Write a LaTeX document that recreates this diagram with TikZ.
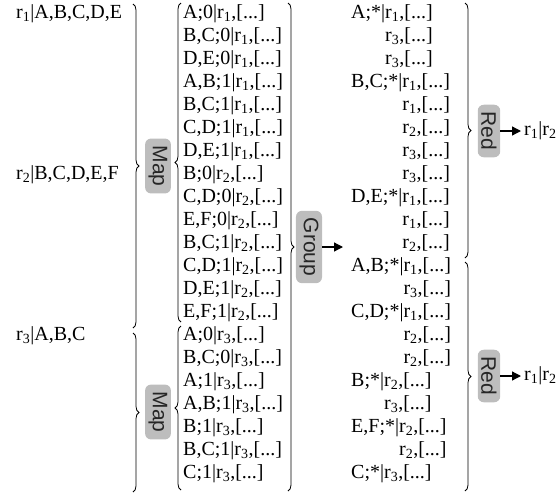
\documentclass[tikz,border=0pt]{standalone}
\usepackage{fontspec}
\setmainfont{Liberation Serif}
\newfontfamily\lblfont{Liberation Sans}
\usetikzlibrary{decorations.pathreplacing,arrows.meta}
\newcommand{\rs}[1]{r\textsubscript{#1}}
\newcommand{\dd}{[...]}
\begin{document}
\begin{tikzpicture}[x=1pt,y=-1pt,
  txt/.style={anchor=west,inner sep=0pt,font=\fontsize{20}{23}\selectfont},
  opbox/.style={fill=black!26,rounded corners=6pt,rotate=-90,inner xsep=7pt,inner ysep=3.5pt,font=\lblfont\fontsize{21}{21}\selectfont,text=black!85},
  brc/.style={decorate,decoration={brace,amplitude=6pt},line width=0.8pt},
  arr/.style={-{Triangle[length=9pt,width=9pt]},line width=1.3pt}]
\useasboundingbox (0,0) rectangle (560,496);
% inputs
\node[txt] (l1) at (16,14) {\rs{1}|A,B,C,D,E};
\node[txt] (l2) at (16,175) {\rs{2}|B,C,D,E,F};
\node[txt] (l3) at (16,336) {\rs{3}|A,B,C};
% middle column
\foreach \t [count=\i from 0] in {
  {A;0|\rs{1},\dd},{B,C;0|\rs{1},\dd},{D,E;0|\rs{1},\dd},{A,B;1|\rs{1},\dd},
  {B,C;1|\rs{1},\dd},{C,D;1|\rs{1},\dd},{D,E;1|\rs{1},\dd},
  {B;0|\rs{2},\dd},{C,D;0|\rs{2},\dd},{E,F;0|\rs{2},\dd},{B,C;1|\rs{2},\dd},
  {C,D;1|\rs{2},\dd},{D,E;1|\rs{2},\dd},{E,F;1|\rs{2},\dd},
  {A;0|\rs{3},\dd},{B,C;0|\rs{3},\dd},{A;1|\rs{3},\dd},{A,B;1|\rs{3},\dd},
  {B;1|\rs{3},\dd},{B,C;1|\rs{3},\dd},{C;1|\rs{3},\dd}}
  {\node[txt] (m\i) at (183,{14+23*\i}) {\t};}
% right column
\foreach \t [count=\i from 0] in {
  {A;*|\rs{1},\dd},{\phantom{A;*|}\rs{3},\dd},{\phantom{A;*|}\rs{3},\dd},
  {B,C;*|\rs{1},\dd},{\phantom{B,C;*|}\rs{1},\dd},{\phantom{B,C;*|}\rs{2},\dd},
  {\phantom{B,C;*|}\rs{3},\dd},{\phantom{B,C;*|}\rs{3},\dd},
  {D,E;*|\rs{1},\dd},{\phantom{D,E;*|}\rs{1},\dd},{\phantom{D,E;*|}\rs{2},\dd},
  {A,B;*|\rs{1},\dd},{\phantom{A,B;*|}\rs{3},\dd},
  {C,D;*|\rs{1},\dd},{\phantom{C,D;*|}\rs{2},\dd},{\phantom{C,D;*|}\rs{2},\dd},
  {B;*|\rs{2},\dd},{\phantom{B;*|}\rs{3},\dd},
  {E,F;*|\rs{2},\dd},{\phantom{E,F;*|}\rs{2},\dd},
  {C;*|\rs{3},\dd}}
  {\node[txt] (g\i) at (351,{14+23*\i}) {\t};}
% operation boxes
\node[opbox] (map1) at (158,166) {Map};
\node[opbox] (map2) at (158,412) {Map};
\node[opbox] (grp) at (309,247) {Group};
\node[opbox] (red1) at (489,131) {Red};
\node[opbox] (red2) at (489,376) {Red};
\node[txt] (o1) at (524,131) {\rs{1}|\rs{2}};
\node[txt] (o2) at (524,376) {\rs{1}|\rs{2}};
\coordinate (gend) at (343,247);
% braces
\coordinate (b1t) at (133,4);   \coordinate (b1b) at (133,328);
\coordinate (b2t) at (133,333); \coordinate (b2b) at (133,492);
\coordinate (c1t) at (181,3);   \coordinate (c1b) at (181,322);
\coordinate (c2t) at (181,326); \coordinate (c2b) at (181,490);
\coordinate (dt) at (288,3);    \coordinate (db) at (288,491);
\coordinate (e1t) at (465,3);   \coordinate (e1b) at (465,258);
\coordinate (e2t) at (465,262); \coordinate (e2b) at (465,491);
\draw[brc] (b1t) -- (b1b);
\draw[brc] (b2t) -- (b2b);
\draw[brc] (c1b) -- (c1t);
\draw[brc] (c2b) -- (c2t);
\draw[brc] (dt) -- (db);
\draw[brc] (e1t) -- (e1b);
\draw[brc] (e2t) -- (e2b);
% arrows
\draw[arr] (grp) -- (gend);
\draw[arr,shorten >=3pt] (red1) -- (o1);
\draw[arr,shorten >=3pt] (red2) -- (o2);
\end{tikzpicture}
\end{document}
